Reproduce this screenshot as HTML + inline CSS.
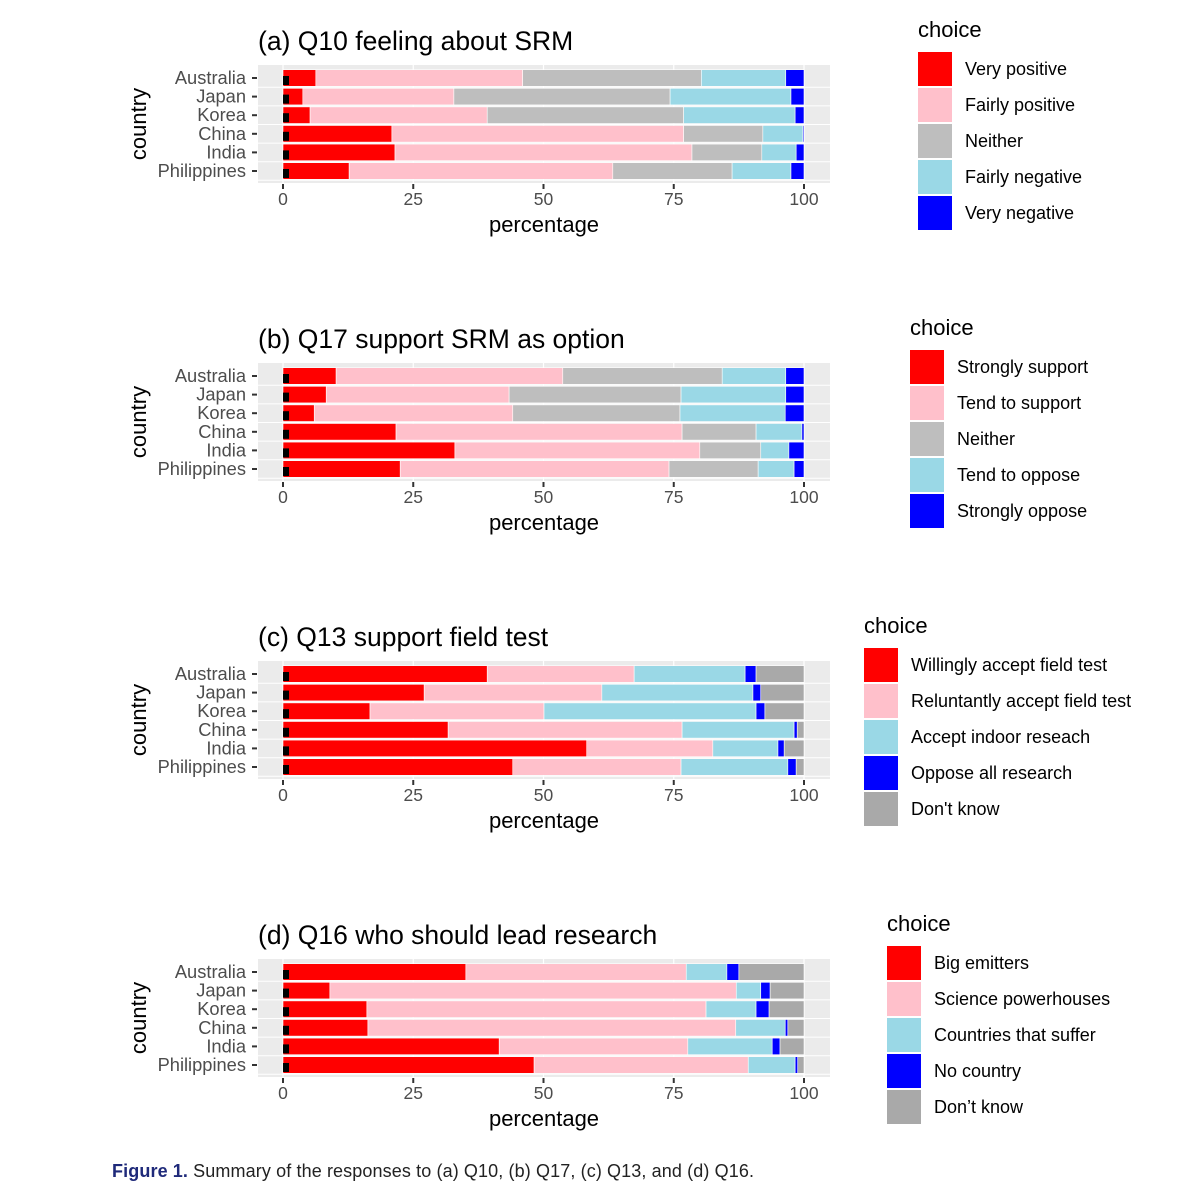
<!DOCTYPE html>
<html><head><meta charset="utf-8"><style>
body{margin:0;background:#fff;}
svg{display:block;font-family:"Liberation Sans",sans-serif;}
</style></head><body>
<svg id="chart" width="1200" height="1196" viewBox="0 0 1200 1196"></svg>
<script>
const countries = ["Australia","Japan","Korea","China","India","Philippines"];
const ticks = [0,25,50,75,100];
const titles = ["(a) Q10 feeling about SRM","(b) Q17 support SRM as option","(c) Q13 support field test","(d) Q16 who should lead research"];
const choicesA = ["Very positive","Fairly positive","Neither","Fairly negative","Very negative"];
const choicesB = ["Strongly support","Tend to support","Neither","Tend to oppose","Strongly oppose"];
const choicesC = ["Willingly accept field test","Reluntantly accept field test","Accept indoor reseach","Oppose all research","Don't know"];
const choicesD = ["Big emitters","Science powerhouses","Countries that suffer","No country","Don\u2019t know"];
const dataA = [[6.3,39.7,34.3,16.2,3.5],[3.8,29,41.5,23.2,2.5],[5.2,34,37.7,21.4,1.7],[20.9,56,15.2,7.7,0.2],[21.5,57,13.4,6.6,1.5],[12.7,50.6,22.9,11.3,2.5]];
const dataB = [[10.2,43.5,30.6,12.2,3.5],[8.3,35.1,33,20.1,3.5],[6,38.1,32.1,20.2,3.6],[21.7,54.9,14.2,8.8,0.4],[33,47,11.7,5.4,2.9],[22.5,51.6,17.1,6.9,1.9]];
const dataC = [[39.2,28.2,21.3,2.1,9.2],[27.1,34.1,29,1.5,8.3],[16.7,33.4,40.7,1.7,7.5],[31.7,44.9,21.5,0.6,1.3],[58.3,24.2,12.5,1.2,3.8],[44.1,32.3,20.5,1.6,1.5]];
const dataD = [[35.1,42.3,7.8,2.3,12.5],[9,78,4.7,1.8,6.5],[16.1,65.1,9.6,2.5,6.7],[16.3,70.6,9.5,0.5,3.1],[41.5,36.2,16.2,1.5,4.6],[48.2,41.1,9,0.5,1.2]];
const colorsAB = ["#ff0000","#ffc0cb","#bebebe","#9ad8e6","#0000ff"];
const colorsCD = ["#ff0000","#ffc0cb","#9ad8e6","#0000ff","#a9a9a9"];
const panels = [
 {title:titles[0],choices:choicesA,data:dataA,colors:colorsAB,legX:918},
 {title:titles[1],choices:choicesB,data:dataB,colors:colorsAB,legX:910},
 {title:titles[2],choices:choicesC,data:dataC,colors:colorsCD,legX:864},
 {title:titles[3],choices:choicesD,data:dataD,colors:colorsCD,legX:887}
];
const NS="http://www.w3.org/2000/svg";
const svg=document.getElementById('chart');
function mk(tag,attrs,parent,text){const e=document.createElementNS(NS,tag);for(const k in attrs)e.setAttribute(k,attrs[k]);if(text!==undefined)e.textContent=text;(parent||svg).appendChild(e);return e;}
const X0=283,X1=804;
function xs(v){return X0+(X1-X0)*v/100;}
panels.forEach((p,pi)=>{
 const oy=pi*298;
 const g=mk('g',{});
 
 
 const rowY=i=>oy+78+i*18.6;
 const t=mk('text',{x:258,y:oy+50,'font-size':26.5,fill:'#000'},g,p.title);
 
 
 const bg=mk('rect',{x:258,y:oy+65,width:572,height:118,fill:'#ebebeb'},g);
 
 
 ticks.forEach(v=>{mk('line',{x1:xs(v),x2:xs(v),y1:oy+65,y2:oy+183,stroke:'#fff','stroke-width':1.2},g);});
 countries.forEach((c,i)=>{
  const y=rowY(i);
  mk('line',{x1:258,x2:830,y1:y+9.3,y2:y+9.3,stroke:'#fff','stroke-width':1},g);
  let acc=0;
  p.data[i].forEach((v,j)=>{
   const r=mk('rect',{x:xs(acc),y:y-8.3,width:Math.max(0,xs(acc+v)-xs(acc)),height:16.6,fill:p.colors[j],stroke:'#fff','stroke-width':0.6},g);
   
   
   acc+=v;
  });
  mk('rect',{x:283,y:y-2,width:6,height:9,fill:'#000'},g);
  const lt=mk('text',{x:246,y:y+6,'font-size':18.3,fill:'#4d4d4d','text-anchor':'end'},g,c);
  
  
  mk('line',{x1:252,x2:257,y1:y,y2:y,stroke:'#333','stroke-width':2},g);
 });
 ticks.forEach(v=>{
  mk('line',{x1:xs(v),x2:xs(v),y1:oy+184,y2:oy+189,stroke:'#333','stroke-width':2},g);
  const tt=mk('text',{x:xs(v),y:oy+205,'font-size':17.5,fill:'#4d4d4d','text-anchor':'middle'},g,String(v));
  
  
 });
 const xt=mk('text',{x:544,y:oy+232,'font-size':22,fill:'#000','text-anchor':'middle'},g,'percentage');
 
 
 const yt=mk('text',{x:0,y:0,'font-size':22,fill:'#000','text-anchor':'middle',transform:`translate(146,${oy+124}) rotate(-90)`},g,'country');
 
 
 const lx=p.legX, ly=oy+52;
 const lg=mk('text',{x:lx,y:oy+37,'font-size':22,fill:'#000'},g,'choice');
 
 
 p.choices.forEach((ch,j)=>{
  const k=mk('rect',{x:lx,y:ly+j*36,width:34,height:34,fill:p.colors[j]},g);
  
  
  const lt=mk('text',{x:lx+47,y:ly+j*36+23,'font-size':18,fill:'#000'},g,ch);
  
  
 });
});
const cap=mk('text',{x:112,y:1177,'font-size':18,fill:'#222',textLength:642});


mk('tspan',{fill:'#1f2a7a','font-weight':'bold'},cap,'Figure 1.');
mk('tspan',{},cap,' Summary of the responses to (a) Q10, (b) Q17, (c) Q13, and (d) Q16.');
</script>
</body></html>
